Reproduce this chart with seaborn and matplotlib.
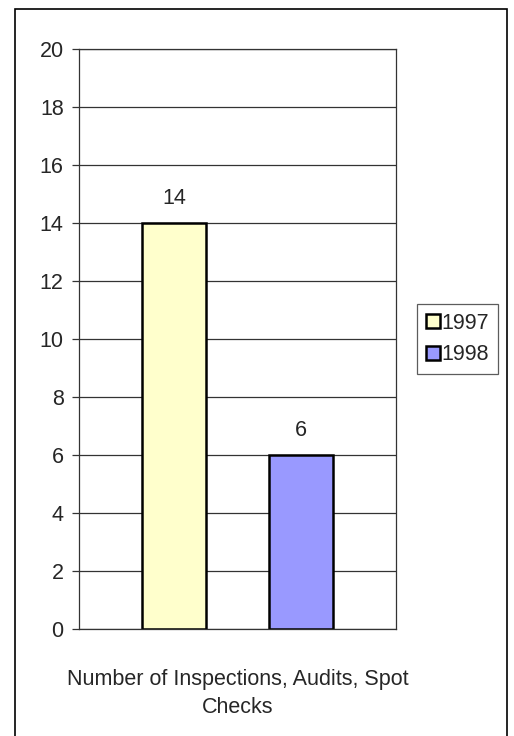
import numpy as np
import pandas as pd
import seaborn as sns
import matplotlib.pyplot as plt
from matplotlib.patches import Rectangle

# data
category = "Number of Inspections, Audits, Spot\nChecks"
years = ["1997", "1998"]
counts = [14, 6]
colors = ["#FFFFCC", "#9999FF"]

df = pd.DataFrame({"cat": [category] * len(years), "year": years, "count": counts})

sns.set_style("white")
plt.rcParams['font.family'] = ['Liberation Sans', 'DejaVu Sans']
fs = 15.5

W, H = 514, 736
fig = plt.figure(figsize=(W / 100, H / 100), dpi=100)
ax = fig.add_axes([79 / W, 1 - 629 / H, (396 - 79) / W, (629 - 49) / H])

sns.barplot(data=df, x="cat", y="count", hue="year", hue_order=years,
            palette=colors, saturation=1, width=0.8, gap=0.5, edgecolor="black",
            linewidth=1.8, ax=ax, legend=True)

ax.set_ylim(0, 20)
ax.set_xlim(-0.5, 0.5)
ax.set_yticks(np.arange(0, 21, 2))
ax.yaxis.grid(True, color="#333333", linewidth=0.9)
ax.set_axisbelow(True)
for s in ax.spines.values():
    s.set_color("#333333")
    s.set_linewidth(0.9)
ax.tick_params(axis="y", length=5, width=0.9, color="#333333", labelsize=fs, pad=6, left=True)
ax.tick_params(axis="x", length=0, labelsize=fs, pad=29)
for t in ax.get_xticklabels():
    t.set_linespacing(1.45)
ax.set_xlabel("")
ax.set_ylabel("")

for cont in ax.containers:
    ax.bar_label(cont, padding=10, fontsize=fs)

# legend
h, l = ax.get_legend_handles_labels()
leg = fig.legend(h, l, loc="upper left", bbox_to_anchor=(417 / W, 1 - 304 / H),
                 frameon=True, fancybox=False, fontsize=fs, handlelength=0.65,
                 handleheight=0.65, handletextpad=0.1, borderpad=0.4,
                 labelspacing=0.5, borderaxespad=0)
leg.get_frame().set_edgecolor("#333333")
leg.get_frame().set_linewidth(0.9)
if ax.get_legend():
    ax.get_legend().remove()

# outer border
fig.patches.append(Rectangle((14.5 / W, -0.01), (507 - 14.5) / W, 1 - 8.5 / H + 0.01,
                             transform=fig.transFigure, fill=False,
                             edgecolor="black", linewidth=1.2))

fig.savefig("out.png", dpi=100)
